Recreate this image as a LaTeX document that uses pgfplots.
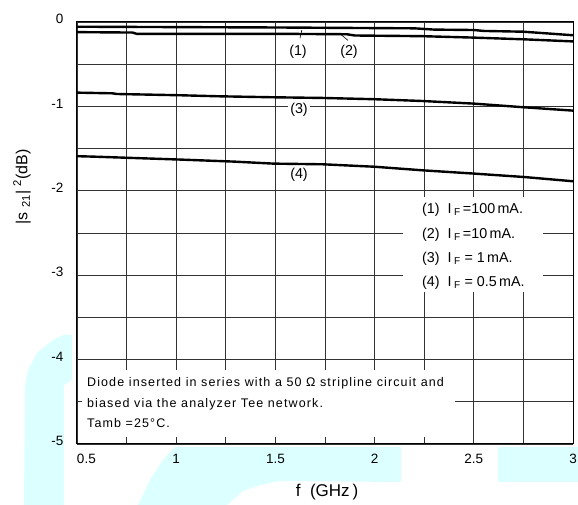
\documentclass[border=0pt]{standalone}
\usepackage{pgfplots}
\pgfplotsset{compat=1.18}
\usepackage{fontspec}
\setmainfont{Liberation Sans}
\newfontfamily\notefont[LetterSpace=9]{Liberation Sans}
\definecolor{wmcyan}{RGB}{220,255,255}
\newcommand{\lgfont}{\fontsize{14.3}{16}\selectfont}
\newcommand{\ntfont}{\notefont\fontsize{12.5}{14}\selectfont}

\begin{document}
\begin{tikzpicture}[x=1pt,y=1pt]
\useasboundingbox (-77,-61) rectangle (501,444);
% light cyan background shapes (scanned watermark)
\fill[wmcyan] (-14,109) -- (-5,109) -- (-5,64) -- (-13,59) -- (-13,-61) -- (-53,-61)
   -- (-52,57) -- (-49,74) -- (-40,91) -- (-24,104) -- cycle;
\fill[wmcyan] (98,-3) -- (324,-3) -- (324,-38) -- (203,-37) -- (183,-41) -- (166,-47)
   -- (150,-61) -- (61,-61) -- (73,-36) -- (86,-16) -- cycle;
\fill[wmcyan] (421,-3) rectangle (501,-38);

\begin{axis}[
    at={(0,0)}, anchor=south west,
    scale only axis, width=496pt, height=422pt,
    xmin=0.5, xmax=3, ymin=-5, ymax=0,
    xtick={0.5,1,...,3},
    xticklabels={\hphantom{0.5}0.5,1,1.5,2,2.5,3},
    minor xtick={0.75,1.25,...,2.75},
    ytick={-5,-4,...,0},
    yticklabels={-5,-4,-3,-2,-1,0},
    minor ytick={-4.5,-3.5,...,-0.5},
    grid=both,
    grid style={black!80, line width=0.8pt},
    major tick length=0pt, minor tick length=0pt,
    axis line style={black, line width=1pt},
    tick label style={font=\fontsize{13.5}{15}\selectfont},
    yticklabel style={xshift=-10pt, yshift=3pt},
    xticklabel style={yshift=-7pt},
    clip=false,
  ]
% boxes that hide the grid behind the texts
\fill[white] (axis cs:0.525,-4.123) rectangle (axis cs:2.405,-4.917);
\fill[white] (axis cs:2.143,-2.073) rectangle (axis cs:2.849,-3.199);

% (1) IF = 100 mA
\addplot[black, line width=2.4pt, line join=round] coordinates {
 (0.5,-0.056) (1.5,-0.065) (2.2,-0.075) (2.3,-0.09) (2.5,-0.095)
 (2.55,-0.106) (2.75,-0.115) (3.0,-0.157)};
% (2) IF = 10 mA
\addplot[black, line width=2.4pt, line join=round] coordinates {
 (0.5,-0.12) (0.78,-0.125) (0.8,-0.14) (1.5,-0.14) (1.86,-0.145) (1.9,-0.16)
 (2.24,-0.168) (2.5,-0.185) (2.75,-0.205) (3.0,-0.23)};
% (3) IF = 1 mA
\addplot[black, line width=2.4pt, line join=round] coordinates {
 (0.5,-0.837) (0.68,-0.845) (0.7,-0.853) (1.02,-0.868) (1.21,-0.88) (1.49,-0.892)
 (1.74,-0.9) (2.0,-0.915) (2.24,-0.936) (2.5,-0.967) (2.75,-1.01) (3.0,-1.05)};
% (4) IF = 0.5 mA
\addplot[black, line width=2.4pt, line join=round] coordinates {
 (0.5,-1.59) (0.58,-1.595) (1.02,-1.63) (1.29,-1.654) (1.49,-1.678) (1.74,-1.686)
 (2.0,-1.715) (2.24,-1.757) (2.5,-1.796) (2.75,-1.836) (3.0,-1.887)};

% curve labels
\node[font=\lgfont] at (axis cs:1.614,-0.355) {(1)};
\node[font=\lgfont] at (axis cs:1.871,-0.355) {(2)};
\node[font=\lgfont, fill=white, inner sep=2pt] at (axis cs:1.619,-1.043) {(3)};
\node[font=\lgfont] at (axis cs:1.619,-1.813) {(4)};
\draw[black, line width=0.6pt] (axis cs:1.633,-0.097) -- (axis cs:1.624,-0.192);
\draw[black, line width=0.6pt] (axis cs:1.826,-0.14) -- (axis cs:1.866,-0.218);

% legend texts
\node[font=\lgfont, anchor=west, inner sep=0pt] at (axis cs:2.239,-2.227) {(1)\ \ I\,\textsubscript{F}\,=100\,mA.};
\node[font=\lgfont, anchor=west, inner sep=0pt] at (axis cs:2.239,-2.524) {(2)\ \ I\,\textsubscript{F}\,=10\,mA.};
\node[font=\lgfont, anchor=west, inner sep=0pt] at (axis cs:2.239,-2.808) {(3)\ \ I\,\textsubscript{F}\ = 1\,mA.};
\node[font=\lgfont, anchor=west, inner sep=0pt] at (axis cs:2.239,-3.092) {(4)\ \ I\,\textsubscript{F}\ = 0.5\,mA.};

% note
\node[font=\ntfont, anchor=west, inner sep=0pt] at (axis cs:0.550,-4.277) {Diode inserted in series with a 50 Ω stripline circuit and};
\node[font=\ntfont, anchor=west, inner sep=0pt] at (axis cs:0.550,-4.526) {biased via the analyzer Tee network.};
\node[font=\ntfont, anchor=west, inner sep=0pt] at (axis cs:0.550,-4.751) {Tamb =25°C.};
\end{axis}

% axis titles
\node[font=\fontsize{16}{18}\selectfont, rotate=90] at (-55,257) {|s\ \textsubscript{21}|\ \textsuperscript{2}(dB)};
\node[font=\fontsize{17}{19}\selectfont] at (250,-48) {f\ \ (GHz\,)};
\end{tikzpicture}
\end{document}
